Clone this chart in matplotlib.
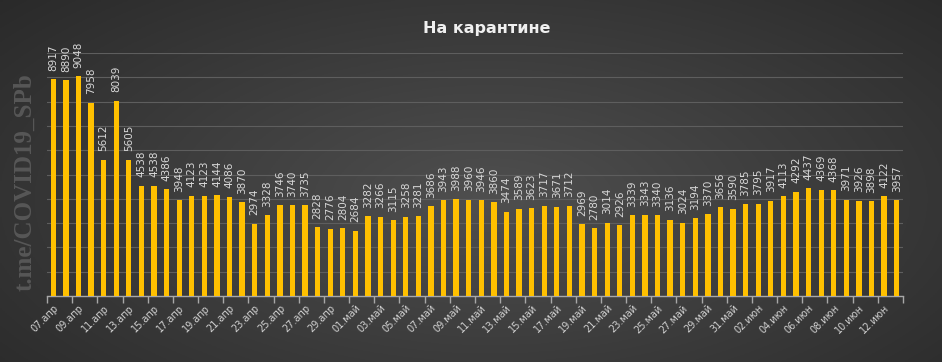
import numpy as np
import matplotlib
matplotlib.use("Agg")
import matplotlib.pyplot as plt
from matplotlib.ticker import FixedLocator

title = "На карантине"
watermark = "t.me/COVID19_SPb"

days_apr = list(range(7, 31))
days_may = list(range(1, 32))
days_jun = list(range(1, 14))
dates = ([f"{d:02d}.апр" for d in days_apr] +
         [f"{d:02d}.май" for d in days_may] +
         [f"{d:02d}.июн" for d in days_jun])

values = [8917, 8890, 9048, 7958, 5612, 8039, 5605, 4538, 4538, 4386,
          3948, 4123, 4123, 4144, 4086, 3870, 2974, 3328, 3746, 3740,
          3735, 2828, 2776, 2804,
          2684, 3282, 3266, 3115, 3258, 3281, 3686, 3943, 3988, 3960,
          3946, 3860, 3474, 3589, 3623, 3717, 3671, 3712, 2969, 2780,
          3014, 2926, 3339, 3343, 3340, 3136, 3024, 3194, 3370, 3656,
          3590,
          3785, 3795, 3917, 4113, 4292, 4437, 4369, 4368, 3971, 3926,
          3898, 4122, 3957]

W, H = 942, 362
fig = plt.figure(figsize=(W / 100, H / 100), dpi=100)

# background gradient
bg = fig.add_axes([0, 0, 1, 1], zorder=-10)
yy, xx = np.mgrid[0:1:200j, 0:1:400j]
r = np.sqrt(((xx - 0.52) / 0.62) ** 2 + ((yy - 0.45) / 0.75) ** 2)
val = 0.31 - 0.17 * np.clip(r, 0, 1.3) / 1.3
bg.imshow(np.dstack([val, val, val]), aspect="auto", extent=[0, 1, 0, 1],
          origin="lower")
bg.set_axis_off()

ax = fig.add_axes([47 / W, 1 - 296 / H, (903 - 47) / W, (296 - 53) / H])
ax.patch.set_alpha(0)
x = np.arange(len(values))
ax.bar(x, values, width=0.42, color="#FFC000", zorder=3)
ax.set_xlim(-0.5, len(values) - 0.5)
ax.set_ylim(0, 10000)
ax.set_yticks(np.arange(0, 10001, 1000))
ax.yaxis.grid(True, color="#5e5e5e", linewidth=0.8, zorder=0)
ax.tick_params(axis="y", left=False, labelleft=False)
for s in ["top", "right", "left"]:
    ax.spines[s].set_visible(False)
ax.spines["bottom"].set_color("#a8a8a8")
ax.spines["bottom"].set_linewidth(1)

ax.set_xticks(x[::2])
ax.set_xticklabels(dates[::2], rotation=45, ha="right", rotation_mode="anchor",
                   fontsize=7, color="#d0d0d0")
ax.tick_params(axis="x", length=0, pad=5)
ax.xaxis.set_minor_locator(FixedLocator(np.arange(-0.5, len(values), 2)))
ax.tick_params(axis="x", which="minor", length=5, color="#a8a8a8", width=1)

for xi, v in zip(x, values):
    ax.annotate(str(v), (xi, v), xytext=(0, 6), textcoords="offset points",
                rotation=90, ha="center", va="bottom", fontsize=7.5,
                color="#d8d8d8")

fig.text(487 / W, 1 - 29 / H, title, ha="center", va="center", fontsize=11.5,
         fontweight="bold", color="#f0f0f0")
fig.text(25 / W, 1 - 182 / H, watermark, rotation=90, ha="center", va="center",
         fontsize=18, fontweight="bold", family="Liberation Serif",
         color="#575757")

fig.savefig("out.png", dpi=100)
